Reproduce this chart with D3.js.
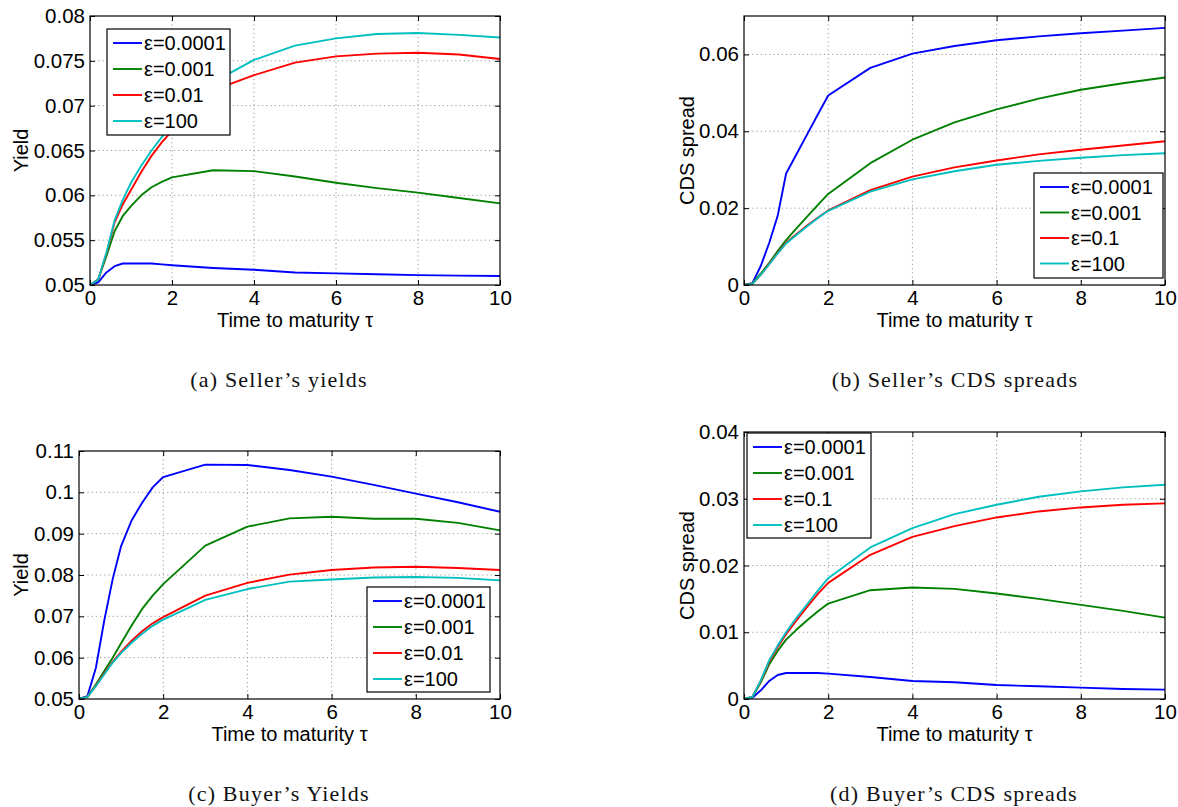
<!DOCTYPE html>
<html>
  <head>
    <script src="https://d3js.org/d3.v7.min.js"></script>
    <style>
      body { margin: 0; background: #fff; }
      .lab { font-family: "Liberation Sans", Arial, sans-serif; font-size: 20px; fill: #000; }
      .leg { font-family: "Liberation Sans", Arial, sans-serif; font-size: 20px; fill: #000; }
      .cap { font-family: "Liberation Serif", "DejaVu Serif", serif; font-size: 22px; letter-spacing: 1.2px; fill: #111; }
      .grid line { stroke: #999; stroke-dasharray: 1.2,3; stroke-width: 1; }
    </style>
  </head>
  <body>
    <svg id="fig" width="1178" height="807"></svg>
  </body>
  <script>
    // time to maturity grid (shared by every series)
    var tau = [0, 0.2, 0.4, 0.6, 0.8, 1, 1.25, 1.5, 1.75, 2, 3, 4, 5, 6, 7, 8, 9, 10];

    var colors = ['#0000ff', '#008000', '#ff0000', '#00bfbf'];
    var legendA = ['ε=0.0001', 'ε=0.001', 'ε=0.01', 'ε=100'];
    var legendB = ['ε=0.0001', 'ε=0.001', 'ε=0.1', 'ε=100'];

    // (a) seller's yields
    var sellerYield1 = [0.05, 0.0503, 0.0514, 0.0521, 0.0524, 0.0524, 0.0524, 0.0524, 0.0523, 0.0522, 0.0519, 0.0517, 0.0514, 0.0513, 0.0512, 0.0511, 0.05105, 0.0510];
    var sellerYield2 = [0.05, 0.0506, 0.0532, 0.0560, 0.0577, 0.0588, 0.0600, 0.0609, 0.0615, 0.0620, 0.0628, 0.0627, 0.0621, 0.0614, 0.0608, 0.0603, 0.0597, 0.0591];
    var sellerYield3 = [0.05, 0.0506, 0.0535, 0.0570, 0.0590, 0.0606, 0.0626, 0.0644, 0.0659, 0.0672, 0.0717, 0.0734, 0.0748, 0.0755, 0.0758, 0.0759, 0.0757, 0.0752];
    var sellerYield4 = [0.05, 0.0506, 0.0536, 0.0572, 0.0595, 0.0614, 0.0633, 0.0650, 0.0665, 0.0678, 0.0726, 0.0751, 0.0767, 0.0775, 0.0780, 0.0781, 0.0779, 0.0776];

    // (b) seller's CDS spreads
    var sellerCds1 = [0, 0.0005, 0.005, 0.011, 0.018, 0.029, 0.0341, 0.0392, 0.0443, 0.0493, 0.0565, 0.0602, 0.0622, 0.0637, 0.0647, 0.0655, 0.0662, 0.0669];
    var sellerCds2 = [0, 0.0004, 0.003, 0.0058, 0.0088, 0.0117, 0.0148, 0.0178, 0.0208, 0.0237, 0.0317, 0.0378, 0.0423, 0.0457, 0.0485, 0.0508, 0.0525, 0.0540];
    var sellerCds3 = [0, 0.0003, 0.0027, 0.0055, 0.0083, 0.0110, 0.0133, 0.0155, 0.0175, 0.0194, 0.0247, 0.0282, 0.0306, 0.0324, 0.0340, 0.0352, 0.0363, 0.0374];
    var sellerCds4 = [0, 0.0003, 0.0027, 0.0054, 0.0082, 0.0108, 0.0131, 0.0153, 0.0174, 0.0193, 0.0243, 0.0275, 0.0296, 0.0313, 0.0323, 0.0331, 0.0338, 0.0343];

    // (c) buyer's yields
    var buyerYield1 = [0.05, 0.0507, 0.0575, 0.069, 0.079, 0.087, 0.0932, 0.0975, 0.1012, 0.1037, 0.1067, 0.1066, 0.1054, 0.1038, 0.1018, 0.0997, 0.0976, 0.0953];
    var buyerYield2 = [0.05, 0.0505, 0.0535, 0.0568, 0.0600, 0.0635, 0.0678, 0.0718, 0.0750, 0.0778, 0.0871, 0.0917, 0.0937, 0.0941, 0.0936, 0.0936, 0.0926, 0.0908];
    var buyerYield3 = [0.05, 0.0505, 0.0532, 0.0562, 0.0590, 0.0614, 0.0641, 0.0664, 0.0683, 0.0698, 0.0750, 0.0781, 0.0801, 0.0812, 0.0818, 0.0820, 0.0817, 0.0812];
    var buyerYield4 = [0.05, 0.0505, 0.0531, 0.0560, 0.0588, 0.0611, 0.0636, 0.0658, 0.0677, 0.0692, 0.0740, 0.0766, 0.0784, 0.0789, 0.0794, 0.0795, 0.0793, 0.0787];

    // (d) buyer's CDS spreads
    var buyerCds1 = [0, 0.0002, 0.0013, 0.0027, 0.0036, 0.0039, 0.0039, 0.0039, 0.0039, 0.0038, 0.0033, 0.0027, 0.0025, 0.0021, 0.0019, 0.0017, 0.0015, 0.0014];
    var buyerCds2 = [0, 0.0003, 0.0025, 0.0052, 0.0072, 0.0089, 0.0104, 0.0118, 0.0131, 0.0143, 0.0163, 0.0167, 0.0165, 0.0158, 0.0150, 0.0141, 0.0132, 0.0122];
    var buyerCds3 = [0, 0.0003, 0.0027, 0.0056, 0.0078, 0.0097, 0.0118, 0.0138, 0.0157, 0.0174, 0.0216, 0.0243, 0.0259, 0.0272, 0.0281, 0.0287, 0.0291, 0.0293];
    var buyerCds4 = [0, 0.0003, 0.0028, 0.0058, 0.0080, 0.0100, 0.0122, 0.0142, 0.0162, 0.0181, 0.0227, 0.0256, 0.0277, 0.0291, 0.0303, 0.0311, 0.0317, 0.0321];

    var xTicks = [0, 2, 4, 6, 8, 10];
    var yTicksA = [0.05, 0.055, 0.06, 0.065, 0.07, 0.075, 0.08];
    var yTicksB = [0, 0.02, 0.04, 0.06];
    var yTicksC = [0.05, 0.06, 0.07, 0.08, 0.09, 0.1, 0.11];
    var yTicksD = [0, 0.01, 0.02, 0.03, 0.04];

    var svg = d3.select('#fig');

    function panel(opt) {
      var x = d3.scaleLinear().domain([0, 10]).range([opt.left, opt.right]);
      var y = d3.scaleLinear().domain(opt.ydom).range([opt.bottom, opt.top]);
      var g = svg.append('g');
      var w = opt.right - opt.left, h = opt.bottom - opt.top;

      // grid
      var grid = g.append('g').attr('class', 'grid');
      grid.selectAll('.gx').data(xTicks.slice(1, -1)).enter().append('line')
        .attr('x1', d => x(d)).attr('x2', d => x(d)).attr('y1', opt.top).attr('y2', opt.bottom);
      grid.selectAll('.gy').data(opt.yticks.filter(d => d > opt.ydom[0] && d < opt.ydom[1])).enter().append('line')
        .attr('y1', d => y(d)).attr('y2', d => y(d)).attr('x1', opt.left).attr('x2', opt.right);

      // series
      var line = d3.line().x(d => x(d[0])).y(d => y(d[1]));
      opt.series.forEach(function(s, i) {
        g.append('path')
          .datum(tau.map((t, j) => [t, s[j]]))
          .attr('d', line)
          .attr('fill', 'none')
          .attr('stroke', colors[i])
          .attr('stroke-width', 1.9)
          .attr('stroke-linejoin', 'round');
      });

      // axes (matlab style: inward ticks on all four sides)
      var fmt = d => String(+d.toFixed(4));
      g.append('g').attr('transform', 'translate(0,' + opt.bottom + ')')
        .call(d3.axisBottom(x).tickValues(xTicks).tickSizeInner(-5).tickSizeOuter(0).tickPadding(5).tickFormat(fmt));
      g.append('g').attr('transform', 'translate(0,' + opt.top + ')')
        .call(d3.axisTop(x).tickValues(xTicks).tickSizeInner(-5).tickSizeOuter(0).tickFormat(''));
      g.append('g').attr('transform', 'translate(' + opt.left + ',0)')
        .call(d3.axisLeft(y).tickValues(opt.yticks).tickSizeInner(-5).tickSizeOuter(0).tickPadding(5).tickFormat(fmt));
      g.append('g').attr('transform', 'translate(' + opt.right + ',0)')
        .call(d3.axisRight(y).tickValues(opt.yticks).tickSizeInner(-5).tickSizeOuter(0).tickFormat(''));
      g.selectAll('.domain').remove();
      g.selectAll('.tick line').attr('stroke', '#000');
      g.selectAll('.tick text').style('font-family', '"Liberation Sans", Arial, sans-serif').style('font-size', '20.5px').attr('fill', '#000');
      g.append('rect').attr('x', opt.left).attr('y', opt.top).attr('width', w).attr('height', h)
        .attr('fill', 'none').attr('stroke', '#000').attr('stroke-width', 1.2);

      // labels
      g.append('text').attr('class', 'lab').attr('text-anchor', 'middle')
        .attr('x', (opt.left + opt.right) / 2).attr('y', opt.bottom + 42)
        .text('Time to maturity τ');
      g.append('text').attr('class', 'lab').attr('text-anchor', 'middle')
        .attr('transform', 'translate(' + opt.ylabX + ',' + (opt.top + opt.bottom) / 2 + ') rotate(-90)')
        .text(opt.ylab);
      g.append('text').attr('class', 'cap').attr('text-anchor', 'middle')
        .attr('x', opt.capX).attr('y', opt.capY).text(opt.caption);

      // legend
      var L = opt.legend;
      var lg = g.append('g');
      lg.append('rect').attr('x', L.x).attr('y', L.y).attr('width', L.w).attr('height', L.h)
        .attr('fill', '#fff').attr('stroke', '#000').attr('stroke-width', 1.2);
      opt.labels.forEach(function(t, i) {
        var yy = L.y + 14 + i * L.dy;
        lg.append('line').attr('x1', L.x + 6).attr('x2', L.x + 35).attr('y1', yy).attr('y2', yy)
          .attr('stroke', colors[i]).attr('stroke-width', 1.9);
        lg.append('text').attr('class', 'leg').attr('x', L.x + 37).attr('y', yy + 7).text(t);
      });
    }

    panel({left: 90, right: 500, top: 16, bottom: 285, ydom: [0.05, 0.08], yticks: yTicksA,
           series: [sellerYield1, sellerYield2, sellerYield3, sellerYield4], labels: legendA,
           ylab: 'Yield', ylabX: 28, caption: '(a) Seller’s yields', capX: 279, capY: 387,
           legend: {x: 107, y: 29, w: 123, h: 106, dy: 26}});
    panel({left: 744, right: 1165, top: 16, bottom: 285, ydom: [0, 0.07], yticks: yTicksB,
           series: [sellerCds1, sellerCds2, sellerCds3, sellerCds4], labels: legendB,
           ylab: 'CDS spread', ylabX: 694, caption: '(b) Seller’s CDS spreads', capX: 955, capY: 387,
           legend: {x: 1034, y: 173, w: 129, h: 105, dy: 25.5}});
    panel({left: 79, right: 500, top: 451, bottom: 699, ydom: [0.05, 0.11], yticks: yTicksC,
           series: [buyerYield1, buyerYield2, buyerYield3, buyerYield4], labels: legendA,
           ylab: 'Yield', ylabX: 28, caption: '(c) Buyer’s Yields', capX: 279, capY: 801,
           legend: {x: 367, y: 587, w: 123, h: 105, dy: 26}});
    panel({left: 744, right: 1165, top: 432, bottom: 699, ydom: [0, 0.04], yticks: yTicksD,
           series: [buyerCds1, buyerCds2, buyerCds3, buyerCds4], labels: legendB,
           ylab: 'CDS spread', ylabX: 694, caption: '(d) Buyer’s CDS spreads', capX: 954, capY: 801,
           legend: {x: 747, y: 433, w: 124, h: 105, dy: 26}});
  </script>
</html>
